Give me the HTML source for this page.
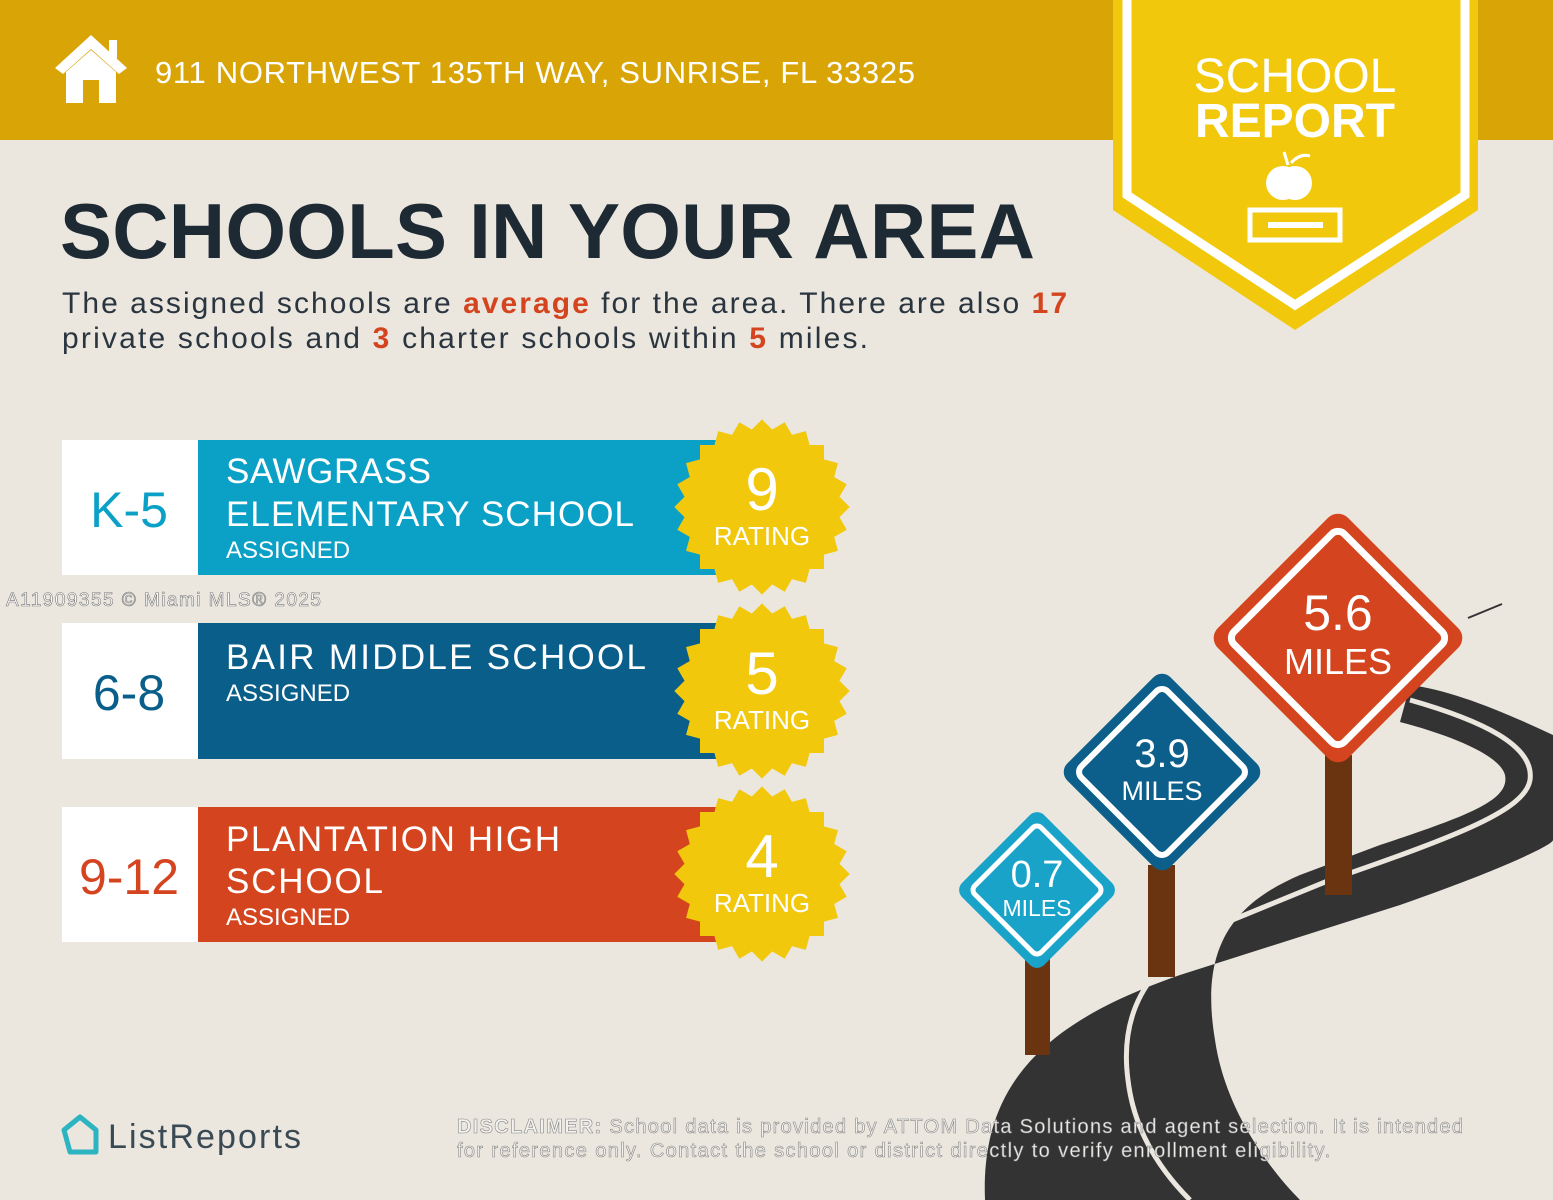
<!DOCTYPE html>
<html><head><meta charset="utf-8"><style>
html,body{margin:0;padding:0;background:#ebe7df;}
svg{display:block;font-family:"Liberation Sans",sans-serif;}
</style></head><body>
<svg width="1553" height="1200" viewBox="0 0 1553 1200" xmlns="http://www.w3.org/2000/svg">
<rect width="1553" height="1200" fill="#ebe7df"/>
<!-- header -->
<rect width="1553" height="140" fill="#d9a406"/>
<g fill="#fff">
<polygon points="91,35 55,68 63,74 91,49 119,74 127,68"/>
<path d="M66,72 L91,50 L116,72 L116,103 L99,103 L99,80 L83,80 L83,103 L66,103 Z"/>
<rect x="109" y="40" width="8" height="18"/>
</g>
<text x="155" y="83" font-size="31" fill="#fff" textLength="760">911 NORTHWEST 135TH WAY, SUNRISE, FL 33325</text>
<!-- badge -->
<polygon points="1113,0 1478,0 1478,210 1295,330 1113,210" fill="#f2c80c"/>
<polyline points="1127,0 1127,195 1295,305 1465,195 1465,0" fill="none" stroke="#fff" stroke-width="9"/>
<text x="1295" y="92" font-size="48" fill="#fff" text-anchor="middle">SCHOOL</text>
<text x="1295" y="137" font-size="48" font-weight="bold" fill="#fff" text-anchor="middle">REPORT</text>
<circle cx="1283" cy="183" r="17" fill="#fff"/><circle cx="1295" cy="183" r="17" fill="#fff"/>
<path d="M1288,165 L1284,152 M1291,163 Q1300,153 1310,156" stroke="#fff" stroke-width="3" fill="none"/>
<rect x="1250" y="210" width="90" height="30" fill="none" stroke="#fff" stroke-width="5"/>
<rect x="1268" y="222" width="55" height="6" fill="#fff"/>
<!-- title -->
<text x="60" y="258" font-size="78" font-weight="bold" fill="#1e2a33" textLength="975">SCHOOLS IN YOUR AREA</text>
<text x="62" y="313" font-size="30" fill="#2a3540" textLength="1005">The assigned schools are <tspan fill="#d4451f" font-weight="bold">average</tspan> for the area. There are also <tspan fill="#d4451f" font-weight="bold">17</tspan></text>
<text x="62" y="348" font-size="30" fill="#2a3540" textLength="806">private schools and <tspan fill="#d4451f" font-weight="bold">3</tspan> charter schools within <tspan fill="#d4451f" font-weight="bold">5</tspan> miles.</text>
<!-- rows -->
<rect x="62" y="440" width="136" height="135" fill="#fff"/>
<rect x="198" y="440" width="520" height="135" fill="#0ba0c6"/>
<text x="129" y="527" font-size="50" fill="#0ba0c6" text-anchor="middle">K-5</text>
<text x="226" y="483" font-size="35" fill="#fff" textLength="205">SAWGRASS</text>
<text x="226" y="526" font-size="35" fill="#fff" textLength="408">ELEMENTARY SCHOOL</text>
<text x="226" y="558" font-size="24" fill="#fff">ASSIGNED</text>

<rect x="62" y="623" width="136" height="136" fill="#fff"/>
<rect x="198" y="623" width="520" height="136" fill="#0a5f8a"/>
<text x="129" y="710" font-size="50" fill="#0a5f8a" text-anchor="middle">6-8</text>
<text x="226" y="669" font-size="35" fill="#fff" textLength="420">BAIR MIDDLE SCHOOL</text>
<text x="226" y="701" font-size="24" fill="#fff">ASSIGNED</text>

<rect x="62" y="807" width="136" height="135" fill="#fff"/>
<rect x="198" y="807" width="520" height="135" fill="#d4451f"/>
<text x="129" y="894" font-size="50" fill="#d4451f" text-anchor="middle">9-12</text>
<text x="226" y="851" font-size="35" fill="#fff" textLength="334">PLANTATION HIGH</text>
<text x="226" y="893" font-size="35" fill="#fff" textLength="157">SCHOOL</text>
<text x="226" y="925" font-size="24" fill="#fff">ASSIGNED</text>

<defs>
<g id="star" fill="#f2c80c">
<rect x="-62" y="-62" width="124" height="124"/>
<rect x="-62" y="-62" width="124" height="124" transform="rotate(15)"/>
<rect x="-62" y="-62" width="124" height="124" transform="rotate(30)"/>
<rect x="-62" y="-62" width="124" height="124" transform="rotate(45)"/>
<rect x="-62" y="-62" width="124" height="124" transform="rotate(60)"/>
<rect x="-62" y="-62" width="124" height="124" transform="rotate(75)"/>
</g>
</defs>
<use href="#star" x="762" y="507"/>
<use href="#star" x="762" y="691"/>
<use href="#star" x="762" y="874"/>
<g fill="#fff" text-anchor="middle">
<text x="762" y="510" font-size="60">9</text><text x="762" y="545" font-size="26">RATING</text>
<text x="762" y="694" font-size="60">5</text><text x="762" y="729" font-size="26">RATING</text>
<text x="762" y="877" font-size="60">4</text><text x="762" y="912" font-size="26">RATING</text>
</g>
<!-- road -->
<path d="M985,1200 C980,1080 1050,1020 1180,975 L1400,905 C1500,870 1553,845 1553,840 L1553,735 C1500,710 1450,690 1410,685 L1400,722 C1450,735 1500,755 1505,775 C1510,800 1470,815 1380,845 L1300,875 C1230,905 1200,950 1215,1040 C1225,1110 1270,1170 1300,1200 Z" fill="#333"/>
<path d="M1410,700 C1480,720 1535,745 1530,780 C1525,810 1460,835 1330,880 L1220,925 C1140,965 1120,1020 1128,1080 C1135,1140 1170,1180 1190,1200" fill="none" stroke="#ebe7df" stroke-width="5"/>
<line x1="1468" y1="618" x2="1502" y2="604" stroke="#333" stroke-width="2"/>
<!-- posts -->
<rect x="1025" y="955" width="25" height="100" fill="#6b3410"/>
<rect x="1148" y="865" width="27" height="112" fill="#6b3410"/>
<rect x="1325" y="755" width="27" height="140" fill="#6b3410"/>
<!-- signs -->
<g transform="translate(1037,890) rotate(45)">
<rect x="-58" y="-58" width="116" height="116" rx="10" fill="#1aa3c8"/>
<rect x="-47" y="-47" width="94" height="94" rx="6" fill="none" stroke="#fff" stroke-width="5"/></g>
<g transform="translate(1162,772) rotate(45)">
<rect x="-73" y="-73" width="146" height="146" rx="12" fill="#0b5f8a"/>
<rect x="-61" y="-61" width="122" height="122" rx="8" fill="none" stroke="#fff" stroke-width="6"/></g>
<g transform="translate(1338,638) rotate(45)">
<rect x="-92" y="-92" width="184" height="184" rx="14" fill="#d4451f"/>
<rect x="-78" y="-78" width="156" height="156" rx="9" fill="none" stroke="#fff" stroke-width="7"/></g>
<g fill="#fff" text-anchor="middle">
<text x="1037" y="887" font-size="38">0.7</text><text x="1037" y="916" font-size="23">MILES</text>
<text x="1162" y="767" font-size="40">3.9</text><text x="1162" y="800" font-size="27">MILES</text>
<text x="1338" y="630" font-size="50">5.6</text><text x="1338" y="674" font-size="36">MILES</text>
</g>
<!-- footer -->
<path d="M64,1130 L80,1117 L96,1130 L96,1152 L70,1152 Z" fill="none" stroke="#2cb5c0" stroke-width="5" stroke-linejoin="round"/>
<text x="108" y="1148" font-size="34" fill="#3a4a55" textLength="193">ListReports</text>
<g font-size="20" fill="#f4f2ee" stroke="#888" stroke-width="0.6">
<text x="457" y="1133" textLength="1006"><tspan font-weight="bold">DISCLAIMER:</tspan> School data is provided by ATTOM Data Solutions and agent selection. It is intended</text>
<text x="457" y="1157" textLength="873">for reference only. Contact the school or district directly to verify enrollment eligibility.</text>
</g>
<text x="6" y="606" font-size="19" fill="#fff" stroke="#777" stroke-width="0.6" textLength="315">A11909355 © Miami MLS® 2025</text>
</svg>
</body></html>
